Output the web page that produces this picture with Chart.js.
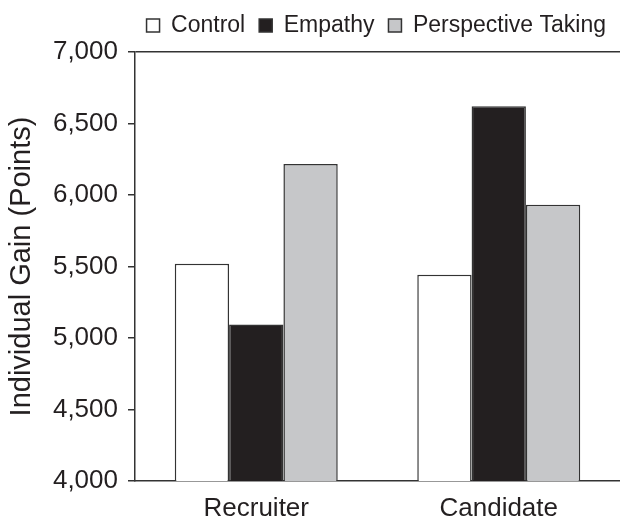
<!DOCTYPE html>
<html>
<head>
<meta charset="utf-8">
<script src="https://cdn.jsdelivr.net/npm/chart.js@4.4.1/dist/chart.umd.min.js"></script>
<style>
  html, body { margin: 0; padding: 0; background: #fff; }
  #wrap { width: 620px; height: 521px; }
</style>
</head>
<body>
<div id="wrap"><canvas id="gainChart"></canvas></div>
<script>
// values
const roles = ['Recruiter', 'Candidate'];
const control = [5520, 5443];
const empathy = [5095, 6621];
const perspectiveTaking = [6217, 5931];

const yMin = 4000;
const yMax = 7000;
const yStep = 500;

const ink = '#231f20';
Chart.defaults.font.family = '"Liberation Sans", Arial, sans-serif';
Chart.defaults.color = ink;

// a bit more room between the legend and the plot
const legendGap = {
    id: 'legendGap',
    beforeInit(chart) {
        const fit = chart.legend.fit;
        chart.legend.fit = function () {
            fit.bind(chart.legend)();
            this.height += 5;
        };
    }
};

const ctx = document.getElementById('gainChart');

new Chart(ctx, {
    type: 'bar',
    data: {
        labels: roles,
        datasets: [{
                label: 'Control',
                data: control,
                backgroundColor: '#ffffff',
                borderColor: '#333333',
                borderWidth: 1.5
            },
            {
                label: 'Empathy',
                data: empathy,
                backgroundColor: '#231f20',
                borderColor: '#333333',
                borderWidth: 1.5
            },
            {
                label: 'Perspective Taking',
                data: perspectiveTaking,
                backgroundColor: '#c6c7c9',
                borderColor: '#333333',
                borderWidth: 1.5
            }
        ]
    },
    options: {
        responsive: true,
        maintainAspectRatio: false,
        animation: false,
        categoryPercentage: 0.672,
        barPercentage: 1.0,
        scales: {
            x: {
                afterFit: (scale) => { scale.height = 40; },
                grid: { display: false, drawTicks: false },
                border: { display: true, color: '#333333', width: 1.5 },
                ticks: { font: { size: 26 }, padding: 12, color: ink }
            },
            y: {
                min: yMin,
                max: yMax,
                afterFit: (scale) => { scale.width = 135; },
                ticks: {
                    stepSize: yStep,
                    font: { size: 26 },
                    padding: 10,
                    color: ink,
                    callback: (v) => v.toLocaleString('en-US')
                },
                grid: {
                    // only the top line at 7,000 shows, like a frame edge
                    color: (c) => c.tick && c.tick.value === yMax ? '#333333' : 'rgba(0,0,0,0)',
                    tickColor: '#333333',
                    tickLength: 7,
                    lineWidth: 1.5
                },
                border: { display: true, color: '#333333', width: 1.5 },
                title: {
                    display: true,
                    text: 'Individual Gain (Points)',
                    font: { size: 29 },
                    color: ink,
                    padding: { top: 5, bottom: 0 }
                }
            }
        },
        plugins: {
            legend: {
                align: 'end',
                labels: {
                    boxWidth: 13,
                    boxHeight: 13,
                    padding: 14,
                    font: { size: 23 },
                    color: ink
                }
            },
            tooltip: { enabled: false }
        }
    },
    plugins: [legendGap]
});
</script>
</body>
</html>
